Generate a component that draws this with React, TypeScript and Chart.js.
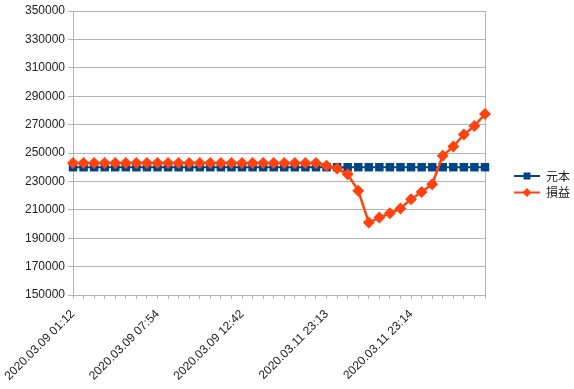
import React, { useEffect, useRef } from 'react';
import { Chart, registerables } from 'chart.js';

Chart.register(...registerables);

const categories: string[] = [
  '2020.03.09 01:12', '', '', '', '', '', '', '',
  '2020.03.09 07:54', '', '', '', '', '', '', '',
  '2020.03.09 12:42', '', '', '', '', '', '', '',
  '2020.03.11 23:13', '', '', '', '', '', '', '',
  '2020.03.11 23:14', '', '', '', '', '', '', '',
];

const principal: number[] = [
  240000, 240000, 240000, 240000, 240000, 240000, 240000, 240000,
  240000, 240000, 240000, 240000, 240000, 240000, 240000, 240000,
  240000, 240000, 240000, 240000, 240000, 240000, 240000, 240000,
  240000, 240000, 240000, 240000, 240000, 240000, 240000, 240000,
  240000, 240000, 240000, 240000, 240000, 240000, 240000, 240000,
];

const profitLoss: number[] = [
  243000, 243000, 243000, 243000, 243000, 243000, 243000, 243000,
  243000, 243000, 243000, 243000, 243000, 243000, 243000, 243000,
  243000, 243000, 243000, 243000, 243000, 243000, 243000, 243000,
  241000, 239000, 235000, 223500, 201000, 204500, 207500, 211000,
  217500, 222500, 228000, 248000, 254500, 263000, 269000, 277500,
];

const seriesNames = ['元本', '損益'];
const yMin = 150000;
const yMax = 350000;
const yStep = 20000;

const BLUE = '#004586';
const ORANGE = '#ff420e';
const GRID = '#b3b3b3';
const TEXT = '#222222';

const legendPlugin = {
  id: 'lineLegend',
  afterDraw(chart: any) {
    const ctx = chart.ctx as CanvasRenderingContext2D;
    const area = chart.chartArea;
    const x0 = area.right + 29;
    const y0 = area.top + 165;
    chart.data.datasets.forEach((ds: any, i: number) => {
      const y = y0 + i * 16.5;
      ctx.save();
      ctx.strokeStyle = ds.borderColor;
      ctx.lineWidth = 2;
      ctx.beginPath();
      ctx.moveTo(x0, y);
      ctx.lineTo(x0 + 26, y);
      ctx.stroke();
      ctx.fillStyle = ds.borderColor;
      const cx = x0 + 13;
      if (ds.pointStyle === 'rect') {
        ctx.fillRect(cx - 3.5, y - 3.5, 7, 7);
      } else {
        ctx.beginPath();
        ctx.moveTo(cx - 4.5, y);
        ctx.lineTo(cx, y - 4.5);
        ctx.lineTo(cx + 4.5, y);
        ctx.lineTo(cx, y + 4.5);
        ctx.closePath();
        ctx.fill();
      }
      ctx.fillStyle = TEXT;
      ctx.font = '12px "Noto Sans CJK JP", "Liberation Sans", sans-serif';
      ctx.textBaseline = 'middle';
      ctx.textAlign = 'left';
      ctx.fillText(ds.label, x0 + 32, y);
      ctx.restore();
    });
  },
};

export default function App() {
  const ref = useRef<HTMLCanvasElement | null>(null);

  useEffect(() => {
    document.body.style.margin = '0';
    if (!ref.current) return;
    const chart = new Chart(ref.current, {
      type: 'line',
      data: {
        labels: categories,
        datasets: [
          {
            label: seriesNames[0],
            data: principal,
            borderColor: BLUE,
            backgroundColor: BLUE,
            borderWidth: 2,
            pointStyle: 'rect',
            pointRadius: 6,
            pointBorderWidth: 0,
            pointBackgroundColor: BLUE,
            order: 1,
            tension: 0,
          },
          {
            label: seriesNames[1],
            data: profitLoss,
            borderColor: ORANGE,
            backgroundColor: ORANGE,
            borderWidth: 2.5,
            pointStyle: 'rectRot',
            pointRadius: 6,
            pointBorderWidth: 0,
            pointBackgroundColor: ORANGE,
            order: 0,
            tension: 0,
          },
        ],
      },
      options: {
        animation: false,
        responsive: false,
        layout: { padding: { top: 11, right: 89, left: 0, bottom: 0 } },
        plugins: {
          legend: { display: false },
          tooltip: { enabled: false },
        },
        scales: {
          x: {
            offset: false,
            grid: {
              display: true,
              drawOnChartArea: false,
              drawTicks: true,
              tickLength: 4,
              color: GRID,
            },
            border: { display: true, color: GRID, width: 1 },
            ticks: {
              autoSkip: false,
              minRotation: 45,
              maxRotation: 45,
              padding: 8,
              color: TEXT,
              font: { family: '"Liberation Sans", Arial, sans-serif', size: 12 },
            },
            afterFit(scale: any) {
              scale.height = 94;
              scale.paddingLeft = 0;
              scale.paddingRight = 0;
            },
          },
          y: {
            min: yMin,
            max: yMax,
            grid: { color: GRID, tickLength: 5, drawTicks: true },
            border: { display: true, color: GRID, width: 1 },
            ticks: {
              stepSize: yStep,
              padding: 3,
              color: TEXT,
              font: { family: '"Liberation Sans", Arial, sans-serif', size: 12 },
              callback: (v: any) => String(v),
            },
            afterFit(scale: any) {
              scale.width = 73;
            },
          },
          yR: {
            position: 'right',
            display: true,
            grid: { display: false, drawTicks: false, drawOnChartArea: false },
            border: { display: true, color: GRID, width: 1 },
            ticks: { display: false },
            afterFit(scale: any) {
              scale.width = 0;
            },
          },
        },
      },
      plugins: [legendPlugin],
    });
    return () => chart.destroy();
  }, []);

  return (
    <div style={{ position: 'absolute', left: 0, top: 0, width: 574, height: 389 }}>
      <canvas ref={ref} width={574} height={389} />
    </div>
  );
}
